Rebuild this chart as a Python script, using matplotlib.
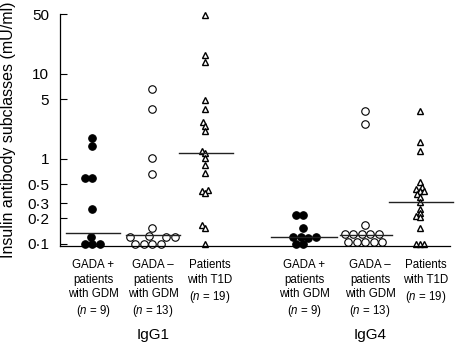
import numpy as np
import matplotlib
matplotlib.use("Agg")
import matplotlib.pyplot as plt
from matplotlib.ticker import NullLocator

plt.rcParams["font.family"] = ["Liberation Sans", "DejaVu Sans"]
plt.rcParams["mathtext.fontset"] = "custom"
plt.rcParams["mathtext.rm"] = "Liberation Sans"
plt.rcParams["mathtext.it"] = "Liberation Sans:italic"

# values (mU/ml)
igg1_gada_pos = [1.75, 1.4, 0.6, 0.59, 0.26, 0.122, 0.1, 0.1, 0.1]
igg1_gada_neg = [6.6, 3.85, 1.02, 0.67, 0.156, 0.124, 0.122, 0.121, 0.12,
                 0.1, 0.1, 0.1, 0.1]
igg1_t1d = [48.6, 16.5, 13.7, 4.86, 3.88, 2.68, 2.45, 2.1, 1.24, 1.17, 1.02,
            0.835, 0.68, 0.43, 0.42, 0.395, 0.166, 0.153, 0.1]
igg4_gada_pos = [0.22, 0.22, 0.156, 0.122, 0.122, 0.122, 0.117, 0.1, 0.1]
igg4_gada_neg = [3.6, 2.58, 0.167, 0.13, 0.13, 0.13, 0.13, 0.13,
                 0.105, 0.105, 0.105, 0.105, 0.105]
igg4_t1d = [3.6, 1.56, 1.24, 0.53, 0.466, 0.44, 0.424, 0.424, 0.385, 0.36,
            0.315, 0.258, 0.23, 0.213, 0.206, 0.156, 0.1, 0.1, 0.1]
medians = [0.134, 0.128, 1.17, 0.122, 0.128, 0.31]

group_labels = ["GADA +\npatients\nwith GDM\n($n$ = 9)",
                "GADA \u2013\npatients\nwith GDM\n($n$ = 13)",
                "Patients\nwith T1D\n($n$ = 19)"] * 2
subclasses = ["IgG1", "IgG4"]
yticks = [0.1, 0.2, 0.3, 0.5, 1, 5, 10, 50]
ytick_labels = ["0\u00b71", "0\u00b72", "0\u00b73", "0\u00b75", "1", "5", "10", "50"]

# layout (x in pixels from the y axis)
col_x = [32, 92, 145, 243, 305, 360]
label_x = [33, 93, 150, 244, 310, 366]
half_w = [27, 27, 27, 33, 26, 32]
PPD = 85.1  # pixels per decade


def swarm(vals, diam):
    """Simple beeswarm offsets in pixels."""
    ys = np.log10(vals) * PPD
    xs = np.zeros(len(vals))
    placed = []
    cands = sorted(np.arange(-40, 40.01, 0.5), key=lambda c: (abs(c), c))
    for i in np.argsort(ys, kind="stable"):
        for c in cands:
            if all((c - px) ** 2 + (ys[i] - py) ** 2 >= diam ** 2 for px, py in placed):
                break
        xs[i] = c
        placed.append((c, ys[i]))
    return xs


fig = plt.figure(figsize=(4.58, 3.42), dpi=100)
ax = fig.add_axes([60 / 458, 0.2807, 390 / 458, 0.678])

series = [igg1_gada_pos, igg1_gada_neg, igg1_t1d,
          igg4_gada_pos, igg4_gada_neg, igg4_t1d]
styles = [
    dict(marker="o", ms=5.4, mfc="black", mec="black", mew=0.8),
    dict(marker="o", ms=5.4, mfc="white", mec="black", mew=0.8),
    dict(marker="^", ms=4.6, mfc="white", mec="black", mew=1.0),
] * 2
diams = [7.5, 8.5, 4] * 2

for vals, x0, st, d in zip(series, col_x, styles, diams):
    off = swarm(vals, d)
    ax.plot(x0 + off, vals, ls="none", zorder=2, clip_on=False, **st)

for m, x0, hw in zip(medians, col_x, half_w):
    ax.plot([x0 - hw + 1, x0 + hw + 1], [m, m], color="#222222", lw=1.0,
            zorder=3, clip_on=False)

ax.set_yscale("log")
ax.set_ylim(0.0947, 50)
ax.set_xlim(0, 390)
ax.set_yticks(yticks)
ax.set_yticklabels(ytick_labels)
ax.yaxis.set_minor_locator(NullLocator())
ax.set_xticks([])
ax.tick_params(axis="y", direction="in", length=5, width=0.8, pad=8, labelsize=11)
for s in ["top", "right"]:
    ax.spines[s].set_visible(False)
for s in ["left", "bottom"]:
    ax.spines[s].set_linewidth(0.9)

tr = ax.get_xaxis_transform()
for lx, lab in zip(label_x, group_labels):
    ax.text(lx, -0.057, lab, transform=tr, ha="center", va="top",
            fontsize=8.3, linespacing=1.28)
for lx, sub in zip([label_x[1], label_x[4]], subclasses):
    ax.text(lx, -0.383, sub, transform=tr, ha="center", va="center", fontsize=11)

fig.text(9 / 458, 0.62, "Insulin antibody subclasses (mU/ml)", rotation=90,
         ha="center", va="center", fontsize=11.5)

fig.savefig("out.png", dpi=100)
